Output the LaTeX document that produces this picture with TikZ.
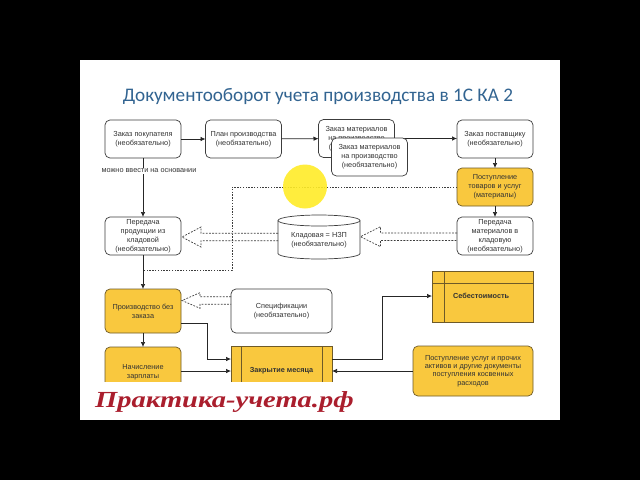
\documentclass[tikz,border=0pt]{standalone}
\usepackage{fontspec}
\setmainfont{Liberation Sans}
\newfontfamily\titlefont{Carlito}
\newfontfamily\wmfont{Liberation Serif}
\usetikzlibrary{arrows.meta,calc}
\definecolor{yel}{RGB}{249,200,62}
\definecolor{yline}{RGB}{110,90,40}
\definecolor{bline}{RGB}{60,60,60}
\definecolor{txt}{RGB}{50,50,50}
\definecolor{ttl}{RGB}{50,100,145}
\definecolor{wm}{RGB}{170,30,45}
\definecolor{hilite}{RGB}{255,236,40}
\newcommand\hollowarr[5]{% tail x, tip x, center y, head half, head length (tip to the left)
  \draw[hol] (#1,#3-3.7) -- (#2+#5,#3-3.7) -- (#2+#5,#3-#4) -- (#2,#3) -- (#2+#5,#3+#4) -- (#2+#5,#3+3.7) -- (#1,#3+3.7);
}
\tikzset{
  boxfont/.style={font=\fontsize{7.3}{8.9}\selectfont},
  wbox/.style={draw=bline, fill=white, rounded corners=5pt, line width=0.7pt, align=center, boxfont, text=txt, inner sep=0pt, outer sep=0pt, minimum width=76pt, minimum height=38pt},
  ybox/.style={wbox, fill=yel, draw=yline},
  ysq/.style={ybox, rounded corners=0pt},
  conn/.style={draw=black!85, line width=0.7pt, -{Latex[length=5pt,width=4.5pt]}},
  dotl/.style={draw=bline, line width=0.7pt, dash pattern=on 1.4pt off 1.4pt},
  hol/.style={draw=bline, line width=0.7pt, dash pattern=on 1.8pt off 1.4pt},
  lbl/.style={fill=white, boxfont, text=txt, inner sep=1pt}
}
\begin{document}
\begin{tikzpicture}[x=1pt,y=-1pt]
\fill[black] (0,0) rectangle (640,480);
\fill[white] (80,60) rectangle (560,420);
\useasboundingbox (0,0) rectangle (640,480);

% title
\node[text=ttl, font=\titlefont\fontsize{19.2}{22}\selectfont, inner sep=0pt] (title) at (318,97) {Документооборот учета производства в 1С КА 2};

% top row
\node[wbox] (b1) at (143,139) {Заказ покупателя\\(необязательно)};
\node[wbox] (b2) at (243.5,139) {План производства\\(необязательно)};
\node[wbox] (b3) at (356.5,138.5) {Заказ материалов\\на производство\\(необязательно)};
\node[wbox] (b5) at (495,139) {Заказ поставщику\\(необязательно)};

% connectors top
\draw[conn] (b1) -- (b2);
\draw[conn] (b2) -- (b3);
\draw[conn] (b3.east) -- (b5.west |- b3.east);

\node[wbox] (b4) at (369.5,157) {Заказ материалов\\на производство\\(необязательно)};

\node[ybox] (b6) at (495,187) {Поступление\\товаров и услуг\\(материалы)};
\node[wbox] (b7) at (495,236) {Передача\\материалов в\\кладовую\\(необязательно)};
\node[wbox] (b9) at (143,236) {Передача\\продукции из\\кладовой\\(необязательно)};

% cylinder
\node[minimum width=82pt, minimum height=44pt, inner sep=0pt] (cyl) at (319,237) {};
\filldraw[fill=white, draw=bline, line width=0.7pt]
  (278,220.5) -- (278,253.5) arc[start angle=180, end angle=0, x radius=41, y radius=5.5]
  -- (360,220.5) arc[start angle=0, end angle=-180, x radius=41, y radius=5.5] -- cycle;
\draw[draw=bline, line width=0.7pt] (278,220.5) arc[start angle=180, end angle=0, x radius=41, y radius=5.5];
\node[boxfont, text=txt, align=center] (cyltext) at (319,240.5) {Кладовая = НЗП\\(необязательно)};

\node[ybox, minimum height=44pt] (b10) at (143,311) {Производство без\\заказа};
\node[wbox, minimum width=101pt, minimum height=44pt] (b11) at (281.5,311) {Спецификации\\(необязательно)};
\node[ybox, minimum height=50pt] (b12) at (143,372) {Начисление\\зарплаты};
\node[ysq, minimum width=101pt, minimum height=50pt, font=\fontsize{7.3}{8.9}\selectfont\bfseries] (b13) at (281.5,371) {Закрытие месяца};
\draw[yline, line width=0.7pt] ([xshift=10pt]b13.north west) -- ([xshift=10pt]b13.south west);
\draw[yline, line width=0.7pt] ([xshift=-10pt]b13.north east) -- ([xshift=-10pt]b13.south east);
\node[ysq, minimum width=101pt, minimum height=51pt] (b14) at (482.5,296.5) {};
\draw[yline, line width=0.7pt] ([xshift=12pt]b14.north west) -- ([xshift=12pt]b14.south west);
\draw[yline, line width=0.7pt] ([yshift=-12pt]b14.north west) -- ([yshift=-12pt]b14.north east);
\node[anchor=west, font=\fontsize{7.3}{8.9}\selectfont\bfseries, text=txt, inner sep=0pt] (b14t) at (453,296) {Себестоимость};
\node[ybox, minimum width=120pt, minimum height=50pt, font=\fontsize{7.3}{8.2}\selectfont] (b15) at (473,371) {Поступление услуг и прочих\\активов и другие документы\\поступления косвенных\\расходов};

% vertical connectors
\draw[conn] (b5) -- (b6);
\draw[conn] (b6) -- (b7);
\draw[conn] (b1) -- node[lbl, pos=0.22, xshift=6pt] {можно ввести на основании} (b9);
\draw[conn] (b9) -- (b10);
\draw[conn] (b10) -- (b12);

% dotted line
\coordinate (dj) at (143,270);
\draw[dotl] (b6.west) -| (232,270) -- (dj);

% hollow dashed arrows
\hollowarr{278}{182}{237}{10}{19}
\hollowarr{457}{360.5}{236.7}{10}{20}
\hollowarr{231}{182}{300.5}{7.8}{18}

% connectors to closing
\draw[conn] (b10.east |- 0,323) -- (207,323) |- (b13.west |- 0,359);
\draw[conn] (b12.east |- 0,371) -- (b13.west |- 0,371);
\draw[conn] (b13.east |- 0,359) -- (382,359) |- (b14.west |- 0,296);
\draw[conn] (b15.west) -- (b13.east |- b15.west);

% highlight
\fill[hilite, opacity=0.9] (305,186.5) circle[radius=22pt];

% watermark strip
\fill[white] (80,382) rectangle (365,420);
\node[anchor=base west, text=wm, font=\wmfont\bfseries\itshape\fontsize{23}{26}\selectfont, inner sep=0pt, xscale=1.24, transform shape] (wm) at (95,407) {Практика-учета.рф};
\end{tikzpicture}
\end{document}
